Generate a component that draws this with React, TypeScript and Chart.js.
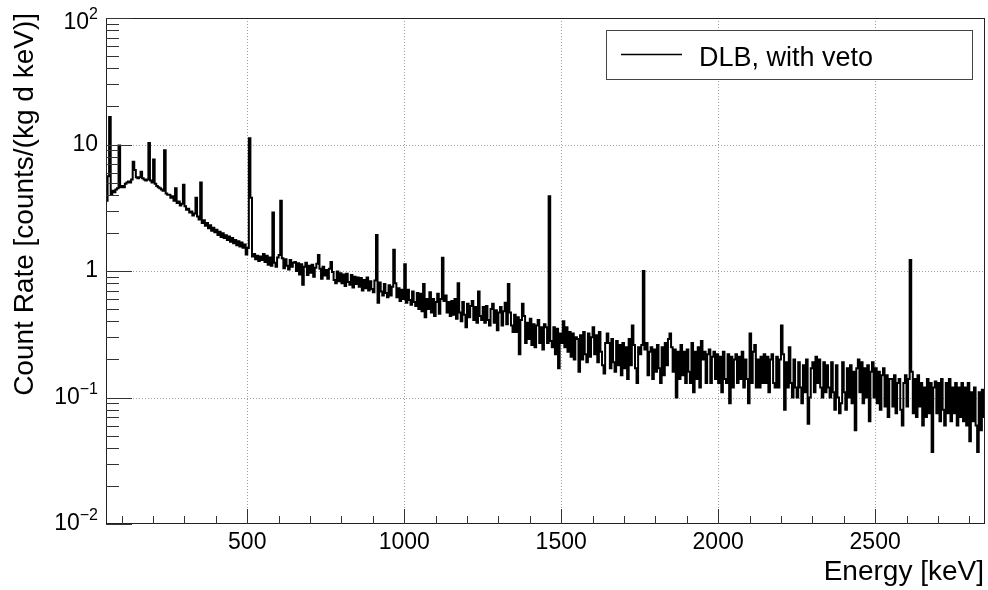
import { useEffect, useRef } from "react";
import { Chart, registerables } from "chart.js";

Chart.register(...registerables);

// ---------------- data ----------------
const E_MIN = 50;
const E_MAX = 2850;
const BIN_WIDTH = 5; // keV

// continuum count rate per 5 keV bin, counts/(kg d keV)
const rate0050 = [
  3.6, 3.9, 4.1, 4.0, 4.3, 4.2, 4.4, 4.5, 4.3, 4.6, 4.7, 4.6, 4.9, 5.0, 5.1, 5.0, 5.3, 5.4, 5.6, 5.5,
  5.4, 5.5, 5.3, 5.4, 5.3, 5.2, 5.3, 5.1, 5.2, 5.0, 4.9, 4.9, 4.7, 4.6, 4.5, 4.4, 4.3, 4.3, 4.1, 4.0,
  4.0, 3.8, 3.9, 3.6, 3.75, 3.45, 3.55, 3.3, 3.4, 3.2, 3.25, 3.05, 3.1, 2.9, 2.95, 2.75, 2.85, 2.65, 2.7, 2.55,
  2.62, 2.4, 2.52, 2.28, 2.4, 2.18, 2.3, 2.08, 2.2, 2.02, 2.12, 1.93, 2.04, 1.86, 1.99, 1.82, 1.92, 1.76, 1.87, 1.7,
  1.82, 1.66, 1.76, 1.6, 1.72, 1.56, 1.68, 1.53, 1.62, 1.35, 1.52, 1.45, 1.38, 1.3, 1.36, 1.24, 1.32, 1.2, 1.3, 1.22,
];
const rate0550 = [
  1.36, 1.18, 1.32, 1.12, 1.28, 1.1, 1.3, 1.16, 1.08, 1.28, 1.34, 1.12, 1.26, 1.05, 1.24, 1.1, 1.03, 1.22, 1.08, 1.16,
  1.18, 1.0, 1.15, 0.94, 1.13, 0.78, 1.08, 1.16, 0.93, 1.1, 0.97, 1.12, 0.9, 1.06, 1.14, 0.9, 1.04, 0.87, 1.08, 0.92,
  1.02, 0.87, 1.04, 0.82, 0.98, 0.85, 0.8, 0.99, 0.83, 0.96, 0.8, 0.94, 0.76, 0.95, 0.82, 0.78, 0.93, 0.74, 0.9, 0.79,
  0.89, 0.75, 0.88, 0.7, 0.85, 0.73, 0.89, 0.7, 0.83, 0.72, 0.68, 0.84, 0.71, 0.56, 0.81, 0.69, 0.64, 0.79, 0.67, 0.62,
  0.77, 0.64, 0.75, 0.61, 0.8, 0.62, 0.73, 0.58, 0.71, 0.6, 0.69, 0.56, 0.71, 0.59, 0.54, 0.69, 0.57, 0.53, 0.67, 0.5,
];
const rate1050 = [
  0.66, 0.48, 0.62, 0.43, 0.6, 0.5, 0.68, 0.47, 0.6, 0.44, 0.57, 0.66, 0.46, 0.6, 0.42, 0.58, 0.64, 0.47, 0.57, 0.44,
  0.58, 0.45, 0.6, 0.42, 0.55, 0.47, 0.4, 0.57, 0.45, 0.36, 0.55, 0.43, 0.53, 0.58, 0.41, 0.52, 0.39, 0.55, 0.44, 0.41,
  0.52, 0.39, 0.53, 0.41, 0.37, 0.5, 0.55, 0.39, 0.49, 0.34, 0.47, 0.52, 0.37, 0.48, 0.56, 0.38, 0.34, 0.47, 0.37, 0.33,
  0.45, 0.33, 0.43, 0.22, 0.41, 0.3, 0.44, 0.27, 0.39, 0.29, 0.42, 0.26, 0.38, 0.25, 0.37, 0.41, 0.27, 0.36, 0.24, 0.38,
  0.36, 0.27, 0.37, 0.28, 0.25, 0.36, 0.22, 0.35, 0.17, 0.32, 0.27, 0.4, 0.25, 0.36, 0.23, 0.33, 0.21, 0.32, 0.2, 0.3,
];
const rate1550 = [
  0.29, 0.16, 0.31, 0.2, 0.33, 0.22, 0.19, 0.32, 0.21, 0.3, 0.36, 0.22, 0.31, 0.19, 0.33, 0.23, 0.18, 0.155, 0.27, 0.32,
  0.27, 0.17, 0.29, 0.19, 0.16, 0.28, 0.18, 0.26, 0.15, 0.27, 0.17, 0.25, 0.14, 0.29, 0.18, 0.16, 0.26, 0.17, 0.13, 0.25,
  0.22, 0.26, 0.16, 0.24, 0.27, 0.15, 0.23, 0.25, 0.14, 0.24, 0.16, 0.26, 0.17, 0.13, 0.25, 0.15, 0.27, 0.18, 0.29, 0.17,
  0.25, 0.16, 0.24, 0.1, 0.23, 0.14, 0.26, 0.15, 0.23, 0.13, 0.24, 0.16, 0.13, 0.27, 0.11, 0.23, 0.14, 0.25, 0.12, 0.28,
  0.2, 0.23, 0.13, 0.22, 0.24, 0.13, 0.21, 0.23, 0.14, 0.22, 0.13, 0.21, 0.11, 0.23, 0.14, 0.13, 0.22, 0.09, 0.21, 0.12,
];
const rate2050 = [
  0.2, 0.22, 0.13, 0.21, 0.14, 0.23, 0.12, 0.2, 0.14, 0.09, 0.21, 0.13, 0.23, 0.26, 0.12, 0.2, 0.12, 0.21, 0.13, 0.22,
  0.13, 0.21, 0.11, 0.2, 0.22, 0.13, 0.12, 0.21, 0.12, 0.2, 0.11, 0.22, 0.08, 0.19, 0.12, 0.25, 0.13, 0.1, 0.2, 0.12,
  0.1, 0.19, 0.12, 0.09, 0.18, 0.11, 0.2, 0.062, 0.1, 0.17, 0.19, 0.11, 0.21, 0.13, 0.2, 0.12, 0.1, 0.19, 0.11, 0.18,
  0.12, 0.1, 0.19, 0.11, 0.08, 0.18, 0.1, 0.075, 0.09, 0.19, 0.11, 0.08, 0.17, 0.1, 0.18, 0.09, 0.16, 0.055, 0.17, 0.2,
  0.11, 0.19, 0.09, 0.17, 0.1, 0.18, 0.065, 0.16, 0.19, 0.1, 0.17, 0.09, 0.16, 0.08, 0.15, 0.17, 0.085, 0.15, 0.07, 0.14,
];
const rate2550 = [
  0.14, 0.085, 0.15, 0.075, 0.13, 0.14, 0.08, 0.06, 0.13, 0.15, 0.085, 0.14, 0.09, 0.16, 0.075, 0.14, 0.07, 0.15, 0.085, 0.13,
  0.06, 0.12, 0.07, 0.14, 0.075, 0.13, 0.037, 0.12, 0.134, 0.075, 0.13, 0.065, 0.14, 0.08, 0.06, 0.13, 0.075, 0.14, 0.065, 0.12,
  0.075, 0.13, 0.06, 0.12, 0.07, 0.13, 0.065, 0.12, 0.06, 0.13, 0.045, 0.11, 0.065, 0.12, 0.06, 0.037, 0.11, 0.055, 0.115, 0.07,
];

// gamma lines: energy (keV) and height of the bin holding them
const peakEnergy = [58, 63, 92, 138, 143, 163, 186, 201, 238, 270, 295, 338, 352, 508, 513, 583, 609, 727, 768, 911, 968, 1001, 1063, 1120, 1170, 1238, 1330, 1377, 1460, 1729, 1764, 1847, 2103, 2202, 2613];
const peakRate = [5.6, 16.5, 9.8, 7.3, 6.3, 6.1, 10.3, 7.6, 9.0, 4.5, 4.8, 3.8, 5.0, 11.2, 3.8, 2.9, 3.6, 1.34, 1.18, 1.93, 1.47, 1.13, 0.79, 1.27, 0.8, 0.69, 0.79, 0.55, 3.9, 0.37, 1.0, 0.32, 0.32, 0.37, 1.22];

const xMajorTicks = [500, 1000, 1500, 2000, 2500];
const xTickLabels = ["500", "1000", "1500", "2000", "2500"];
const yDecades = [0.01, 0.1, 1, 10, 100];
const yTickBase = ["10", "10", "1", "10", "10"];
const yTickExp = ["\u22122", "\u22121", "", "", "2"];

const X_TITLE = "Energy [keV]";
const Y_TITLE = "Count Rate [counts/(kg d keV)]";
const LEGEND_LABEL = "DLB, with veto";

// ---------------- helpers ----------------
const FONT = '"Liberation Sans", Arial, Helvetica, sans-serif';

function buildPoints() {
  const rates = [...rate0050, ...rate0550, ...rate1050, ...rate1550, ...rate2050, ...rate2550];
  peakEnergy.forEach((e, i) => {
    const idx = Math.floor((e - E_MIN) / BIN_WIDTH);
    if (idx >= 0 && idx < rates.length) rates[idx] = Math.max(rates[idx], peakRate[i]);
  });
  const pts = rates.map((v, i) => ({ x: E_MIN + i * BIN_WIDTH, y: v }));
  pts.push({ x: E_MAX, y: rates[rates.length - 1] });
  return pts;
}

function seg(ctx: CanvasRenderingContext2D, x1: number, y1: number, x2: number, y2: number) {
  ctx.beginPath();
  ctx.moveTo(x1, y1);
  ctx.lineTo(x2, y2);
  ctx.stroke();
}

const rootStyle = {
  id: "rootStyle",
  beforeDatasetsDraw(chart: any) {
    const { ctx, chartArea: a, scales } = chart;
    const x = scales.x, y = scales.y;
    ctx.save();
    ctx.strokeStyle = "#a0a0a0";
    ctx.lineWidth = 1;
    ctx.setLineDash([1, 2]);
    xMajorTicks.forEach((v) => {
      const px = Math.round(x.getPixelForValue(v)) + 0.5;
      seg(ctx, px, a.top, px, a.bottom);
    });
    yDecades.forEach((v) => {
      if (v <= y.min || v >= y.max) return;
      const py = Math.round(y.getPixelForValue(v)) + 0.5;
      seg(ctx, a.left, py, a.right, py);
    });
    ctx.restore();
  },
  afterDatasetsDraw(chart: any) {
    const { ctx, chartArea: a, scales } = chart;
    const x = scales.x, y = scales.y;
    ctx.save();
    // frame
    ctx.strokeStyle = "#222";
    ctx.lineWidth = 1;
    ctx.strokeRect(a.left + 0.5, a.top + 0.5, a.right - a.left - 1, a.bottom - a.top - 1);

    // y ticks (inside)
    ctx.strokeStyle = "#333";
    for (let d = -2; d <= 2; d++) {
      for (let k = 1; k <= 9; k++) {
        const v = k * Math.pow(10, d);
        if (v < y.min || v > y.max) continue;
        const py = Math.round(y.getPixelForValue(v)) + 0.5;
        const len = k === 1 ? 26 : 13;
        seg(ctx, a.left, py, a.left + len, py);
      }
    }
    // x ticks (inside)
    for (let e = 100; e < E_MAX; e += 100) {
      if (e <= E_MIN) continue;
      const px = Math.round(x.getPixelForValue(e)) + 0.5;
      const len = e % 500 === 0 ? 15 : 8;
      seg(ctx, px, a.bottom, px, a.bottom - len);
    }

    ctx.fillStyle = "#000";
    // y labels
    yDecades.forEach((v, i) => {
      const py = y.getPixelForValue(v);
      const right = a.left - 8;
      const base = yTickBase[i];
      const exp = yTickExp[i];
      ctx.textBaseline = "middle";
      if (!exp) {
        ctx.font = `23px ${FONT}`;
        ctx.textAlign = "right";
        ctx.fillText(base, right, py);
      } else {
        const baseY = Math.max(py, a.top + 5);
        ctx.font = `16px ${FONT}`;
        const ew = ctx.measureText(exp).width;
        ctx.textAlign = "left";
        ctx.fillText(exp, right - ew, baseY - 8);
        ctx.font = `23px ${FONT}`;
        ctx.textAlign = "right";
        ctx.fillText(base, right - ew, baseY);
      }
    });
    // x labels
    ctx.font = `23px ${FONT}`;
    ctx.textAlign = "center";
    ctx.textBaseline = "alphabetic";
    xMajorTicks.forEach((v, i) => {
      ctx.fillText(xTickLabels[i], x.getPixelForValue(v), a.bottom + 25);
    });
    // titles
    ctx.font = `28px ${FONT}`;
    ctx.textAlign = "right";
    ctx.fillText(X_TITLE, a.right - 1, a.bottom + 56);
    ctx.save();
    ctx.translate(33, 13);
    ctx.rotate(-Math.PI / 2);
    ctx.textAlign = "right";
    ctx.fillText(Y_TITLE, 0, 0);
    ctx.restore();

    // legend box
    const lx = 606, ly = 30, lw = 366, lh = 49;
    ctx.fillStyle = "#fff";
    ctx.fillRect(lx, ly, lw, lh);
    ctx.strokeStyle = "#444";
    ctx.lineWidth = 1;
    ctx.strokeRect(lx + 0.5, ly + 0.5, lw, lh);
    ctx.strokeStyle = "#000";
    ctx.lineWidth = 1.5;
    seg(ctx, 621, 54.5, 682, 54.5);
    ctx.fillStyle = "#000";
    ctx.font = `27px ${FONT}`;
    ctx.textAlign = "left";
    ctx.textBaseline = "alphabetic";
    ctx.fillText(LEGEND_LABEL, 699, 66);
    ctx.restore();
  },
};

export default function App() {
  const ref = useRef<HTMLCanvasElement | null>(null);
  useEffect(() => {
    if (!ref.current) return;
    const chart = new Chart(ref.current, {
      type: "line",
      data: {
        datasets: [
          {
            label: LEGEND_LABEL,
            data: buildPoints(),
            borderColor: "#000",
            borderWidth: 2,
            pointRadius: 0,
            stepped: "before",
            fill: false,
          },
        ],
      },
      options: {
        responsive: false,
        animation: false,
        devicePixelRatio: 1,
        layout: { padding: { left: 106, top: 18, right: 3, bottom: 66 } },
        scales: {
          x: { type: "linear", min: E_MIN, max: E_MAX, display: false },
          y: { type: "logarithmic", min: 0.01, max: 100, display: false },
        },
        plugins: { legend: { display: false }, tooltip: { enabled: false } },
      },
      plugins: [rootStyle],
    } as any);
    return () => chart.destroy();
  }, []);
  return (
    <div style={{ position: "fixed", left: 0, top: 0, width: 988, height: 590, background: "#fff" }}>
      <canvas ref={ref} width={988} height={590} style={{ display: "block" }} />
    </div>
  );
}
